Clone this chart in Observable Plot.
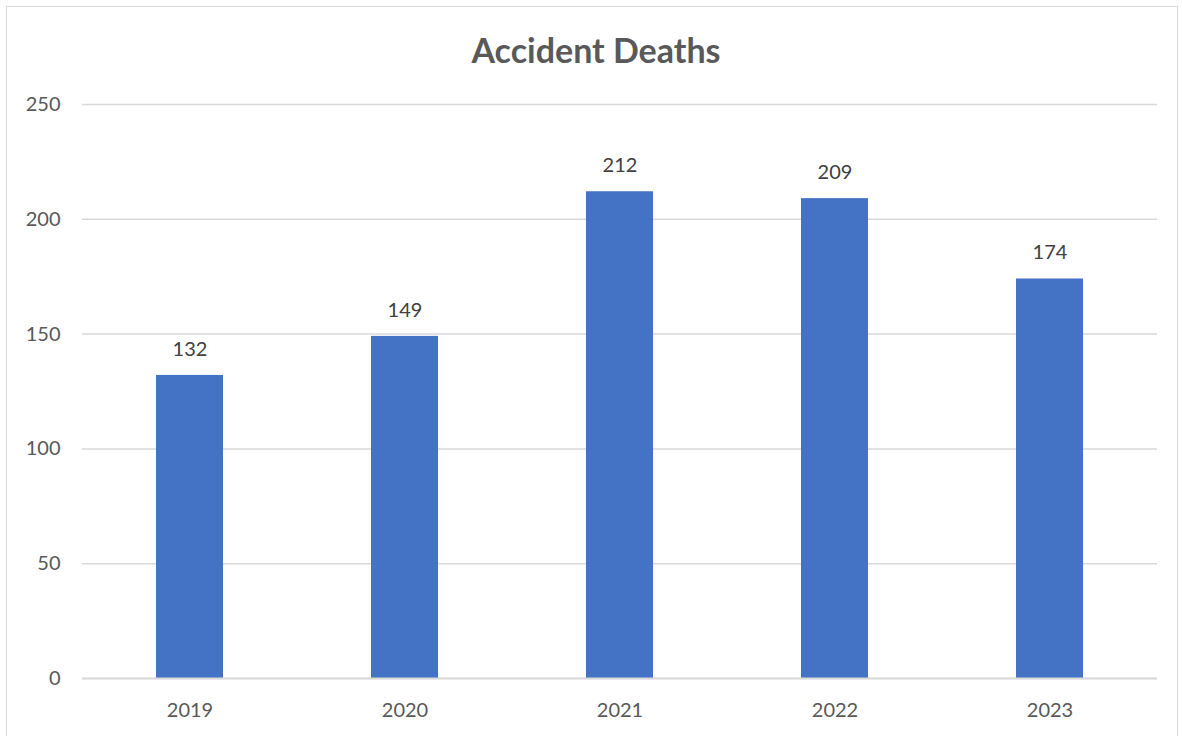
<!DOCTYPE html>
<html>
<head>
<meta charset="utf-8">
<script src="https://cdn.jsdelivr.net/npm/d3@7"></script>
<script src="https://cdn.jsdelivr.net/npm/@observablehq/plot@0.6"></script>
<style>
  html, body { margin: 0; padding: 0; background: #fff; }
  #wrap { position: relative; width: 1182px; height: 736px; overflow: hidden; font-family: Lato, "Open Sans", sans-serif; }
  #frame { position: absolute; left: 6px; top: 6px; width: 1172px; height: 740px; border: 1.5px solid #d9d9d9; box-sizing: border-box; pointer-events: none; }
  #title { position: absolute; left: 0; width: 1192px; top: 28px; line-height: 44px; text-align: center; font-size: 34px; font-weight: 700; color: #595959; }
  #chart { position: absolute; left: 0; top: 0; }
</style>
</head>
<body>
<div id="wrap">
  <div id="chart"></div>
  <div id="frame"></div>
  <div id="title">Accident Deaths</div>
</div>
<script>
const years = ["2019", "2020", "2021", "2022", "2023"];
const deaths = [132, 149, 212, 209, 174];
const yTicks = [0, 50, 100, 150, 200, 250];

const data = years.map((y, i) => ({year: y, value: deaths[i]}));

const chart = Plot.plot({
  width: 1182,
  height: 736,
  marginTop: 104,
  marginBottom: 58,
  marginLeft: 82,
  marginRight: 25,
  style: {fontFamily: "Lato, 'Open Sans', sans-serif", fontSize: "20px", color: "#595959", background: "transparent"},
  x: {domain: years, paddingInner: 0.69, paddingOuter: 0.345, label: null, tickSize: 0, tickPadding: 24},
  y: {domain: [0, 250], ticks: yTicks, label: null, tickSize: 0, tickPadding: 22},
  marks: [
    Plot.gridY(yTicks, {stroke: "#d9d9d9", strokeOpacity: 1, strokeWidth: 1.5}),
    Plot.barY(data, {x: "year", y: "value", fill: "#4472C4"}),
    Plot.ruleY([0], {stroke: "#d9d9d9", strokeWidth: 2}),
    Plot.text(data, {x: "year", y: "value", text: d => String(d.value), dy: -26, fill: "#404040", fontSize: 20, lineAnchor: "middle"})
  ]
});
document.getElementById("chart").appendChild(chart);
</script>
</body>
</html>
